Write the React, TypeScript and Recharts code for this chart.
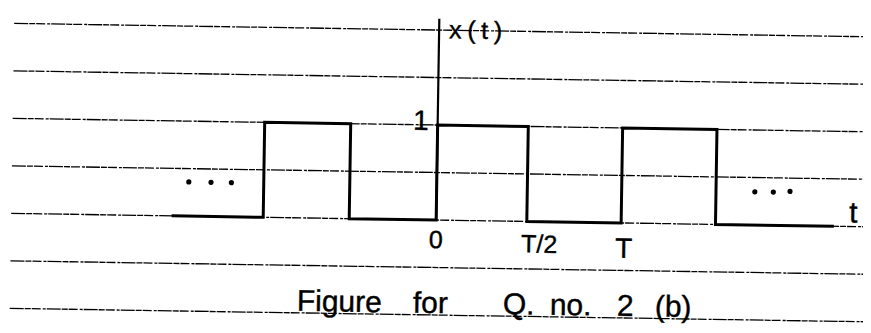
import { ComposedChart, Line, Scatter, XAxis, YAxis, ReferenceLine, ReferenceDot } from 'recharts'

// time is in units of the period T, amplitude in units of the pulse height
const waveT = [-1.43, -0.935, -0.935, -0.47, -0.47, 0, 0, 0.49, 0.49, 1.0, 1.0, 1.51, 1.51, 2.15]
const waveX = [0, 0, 1, 1, 0, 0, 1, 1, 0, 0, 1, 1, 0, 0]

// "..." marks either side of the pulses
const dotsT = [-1.34, -1.22, -1.11, 1.72, 1.82, 1.91]
const dotsX = [0.36, 0.36, 0.36, 0.35, 0.35, 0.36]

// ruled lines of the notebook paper
const ruledLevels = [2, 1.5, 1, 0.5, 0, -0.5, -1]

const tickT = [0, 0.5, 1]
const tickText = ['0', 'T/2', 'T']

const captionWords = ['Figure', 'for', 'Q.', 'no.', '2', '(b)']

const axisTop = 2.12

const waveRows = waveT.map((t, i) => ({ t, x: waveX[i] }))
const dotRows = dotsT.map((t, i) => ({ t, x: dotsX[i] }))

const hand = '"Liberation Sans", "DejaVu Sans", sans-serif'
const ink = { fill: '#000', stroke: '#000', strokeWidth: 0.4 }

const tickStyle = [
  { dx: 0, dy: 28, size: 25 },
  { dx: 11, dy: 31, size: 25 },
  { dx: 3, dy: 35, size: 28 },
]
const captionOffsets = [0, 116, 206, 253, 320, 358]

type DotProps = { cx?: number; cy?: number }

function DotMark(p: DotProps) {
  return <circle cx={p.cx} cy={p.cy} r={2.6} fill="#000" />
}

export default function App() {
  return (
    <div style={{ margin: -8, width: 871, height: 333, overflow: 'hidden', background: '#fff', position: 'relative' }}>
      <div style={{ width: 871, height: 333, transform: 'rotate(0.9deg)', transformOrigin: '435px 166px' }}>
        <ComposedChart width={871} height={333} data={waveRows} margin={{ top: 0, right: 0, bottom: 0, left: 12 }}>
          <XAxis type="number" dataKey="t" domain={[-2.2973, 2.3459]} allowDataOverflow hide />
          <YAxis type="number" domain={[-1.1895, 2.3158]} allowDataOverflow hide />

          {ruledLevels.map(v => (
            <ReferenceLine
              key={v}
              y={v}
              stroke="#000"
              strokeWidth={1.3}
              strokeDasharray="14 1 6 1 9 2 3 1"
            />
          ))}

          <ReferenceLine
            segment={[{ x: 0, y: 0 }, { x: 0, y: axisTop }]}
            stroke="#000"
            strokeWidth={2.2}
          />

          <Line
            dataKey="x"
            type="linear"
            stroke="#000"
            strokeWidth={3}
            dot={false}
            activeDot={false}
            isAnimationActive={false}
          />

          <Scatter data={dotRows} dataKey="x" shape={DotMark} isAnimationActive={false} />

          {tickT.map((t, i) => (
            <ReferenceDot
              key={'tick' + t}
              x={t}
              y={0}
              shape={(p: DotProps) => (
                <text
                  x={(p.cx ?? 0) + tickStyle[i].dx}
                  y={(p.cy ?? 0) + tickStyle[i].dy}
                  textAnchor="middle"
                  fontFamily={hand}
                  fontSize={tickStyle[i].size}
                  {...ink}
                >
                  {tickText[i]}
                </text>
              )}
            />
          ))}

          {/* amplitude mark */}
          <ReferenceDot
            x={0}
            y={1}
            shape={(p: DotProps) => (
              <text x={(p.cx ?? 0) - 9} y={(p.cy ?? 0) + 5} textAnchor="end" fontFamily={hand} fontSize={28} {...ink}>
                1
              </text>
            )}
          />

          {/* axis names */}
          <ReferenceDot
            x={0}
            y={2}
            shape={(p: DotProps) => (
              <text
                x={(p.cx ?? 0) + 10}
                y={(p.cy ?? 0) + 8}
                fontFamily={hand}
                fontSize={25}
                textLength={53}
                lengthAdjust="spacing"
                {...ink}
              >
                x(t)
              </text>
            )}
          />
          <ReferenceDot
            x={2.254}
            y={0}
            shape={(p: DotProps) => (
              <text x={p.cx} y={(p.cy ?? 0) - 4} textAnchor="middle" fontFamily={hand} fontSize={30} {...ink}>
                t
              </text>
            )}
          />

          {/* caption written on the bottom rule */}
          <ReferenceDot
            x={-0.746}
            y={-1}
            shape={(p: DotProps) => (
              <text y={(p.cy ?? 0) - 2} fontFamily={hand} fontSize={30} {...ink}>
                {captionWords.map((w, i) => (
                  <tspan key={w} x={(p.cx ?? 0) + captionOffsets[i]}>
                    {w}
                  </tspan>
                ))}
              </text>
            )}
          />
        </ComposedChart>
      </div>
    </div>
  )
}
